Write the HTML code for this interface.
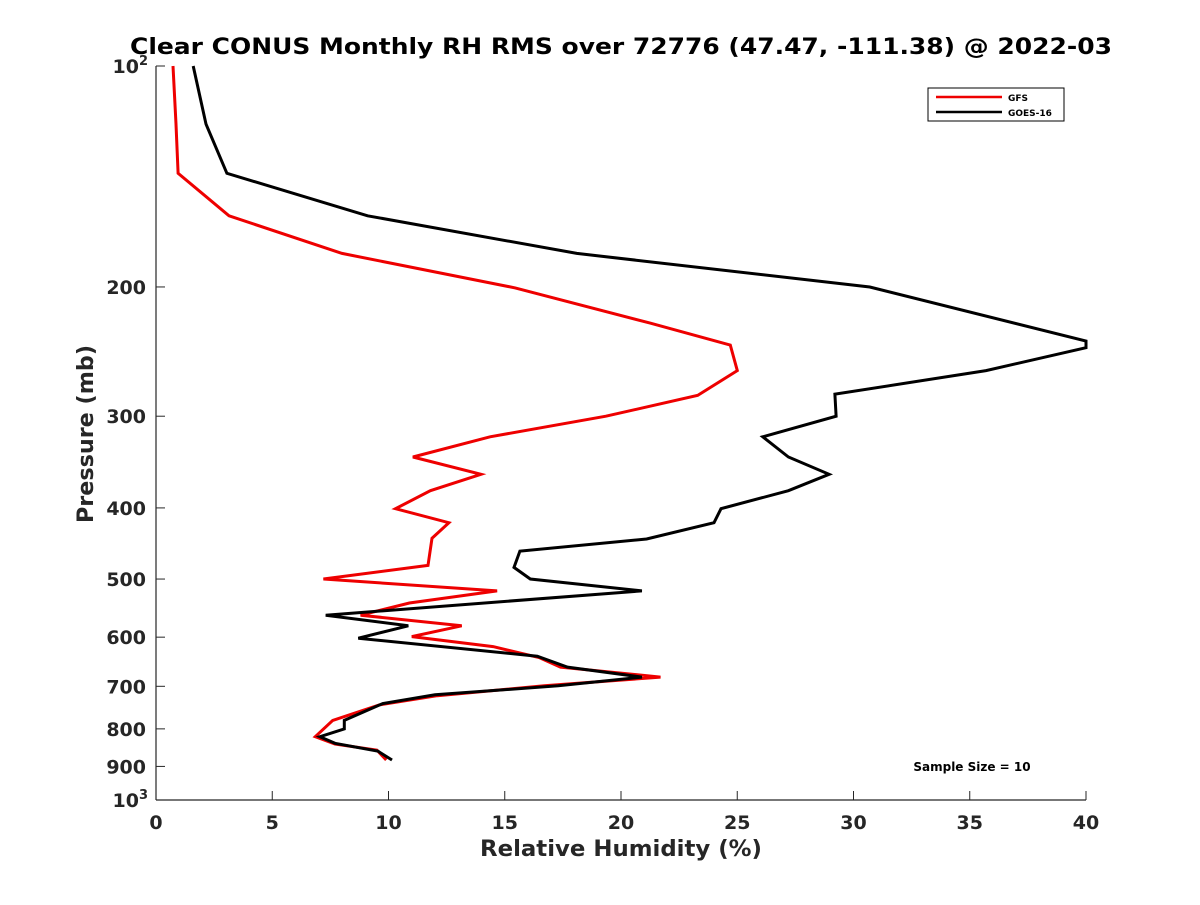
<!DOCTYPE html>
<html><head><meta charset="utf-8"><style>
body{margin:0;background:#fff;}
svg text{font-family:"DejaVu Sans","Liberation Sans",sans-serif;font-weight:bold;fill:#262626;}
svg text.blk{fill:#000;}
</style></head><body>
<svg id="chart" width="1200" height="900" xmlns="http://www.w3.org/2000/svg">
<rect width="1200" height="900" fill="#fff"/>
<text class="blk" x="621" y="54" font-size="22" text-anchor="middle" textLength="982" lengthAdjust="spacingAndGlyphs">Clear CONUS Monthly RH RMS over 72776 (47.47, -111.38) @ 2022-03</text>
<g id="axes"></g>
<g id="series"></g>
<g>
<rect x="928" y="88" width="136" height="33" fill="#fff" stroke="#000" stroke-width="1"/>
<line x1="936" y1="97" x2="1002" y2="97" stroke="#e00" stroke-width="2.5"/>
<text class="blk" x="1008" y="101" font-size="9">GFS</text>
<line x1="936" y1="112" x2="1002" y2="112" stroke="#000" stroke-width="2.5"/>
<text class="blk" x="1008" y="116" font-size="9">GOES-16</text>
</g>
<text class="blk" x="972" y="771" font-size="12" text-anchor="middle">Sample Size = 10</text>
<text x="621" y="856" font-size="22.5" text-anchor="middle" textLength="282" lengthAdjust="spacingAndGlyphs">Relative Humidity (%)</text>
<text transform="translate(93,434) rotate(-90)" font-size="22.5" text-anchor="middle" textLength="178" lengthAdjust="spacingAndGlyphs">Pressure (mb)</text>
</svg>
<script>
const xTicks=[0,5,10,15,20,25,30,35,40];
const yTicks=[100,200,300,400,500,600,700,800,900,1000];
const goesP=[100,120,140,160,180,200,237,242,260,280,300,320,341,360,379,401,419,441,458,482,500,519,560,579,602,637,659,680,699,719,739,779,800,820,837,858,882];
const goesV=[1.6,2.15,3.05,9.1,18.1,30.7,40,40,35.7,29.2,29.25,26.1,27.2,28.95,27.2,24.3,24.0,21.1,15.65,15.4,16.1,20.9,7.3,10.85,8.7,16.4,17.7,20.9,17.3,12.0,9.75,8.1,8.1,7.05,7.7,9.55,10.15];
const gfsP=[100,120,140,160,180,200.6,224,240,260,281,300,320,341,360,379,401,419,440,479,500,519,539,560,579,599,618,640,659,680,699,721,742,779,820,839,855,882];
const gfsV=[0.73,0.86,0.95,3.14,8.0,15.45,21.25,24.7,25.0,23.3,19.35,14.37,11.05,13.98,11.8,10.3,12.6,11.87,11.7,7.2,14.67,10.9,8.8,13.15,11.0,14.5,16.5,17.4,21.7,16.7,12.1,9.6,7.6,6.85,7.7,9.5,9.9];
const X0=156,X1=1086,Y0=66,Y1=800;
const xs=v=>X0+(v-0)/40*(X1-X0);
const ys=p=>Y0+(Math.log10(p)-2)*(Y1-Y0);
const NS="http://www.w3.org/2000/svg";
function mk(t,a,parent){const e=document.createElementNS(NS,t);for(const k in a)e.setAttribute(k,a[k]);parent.appendChild(e);return e;}
const ax=document.getElementById('axes');
let l=mk('line',{x1:X0,y1:Y0,x2:X0,y2:Y1,stroke:'#262626','stroke-width':1.2},ax);


l=mk('line',{x1:X0,y1:Y1,x2:X1,y2:Y1,stroke:'#262626','stroke-width':1.2},ax);


xTicks.forEach(v=>{
 const t=mk('line',{x1:xs(v),y1:Y1,x2:xs(v),y2:Y1-9,stroke:'#262626','stroke-width':1},ax);
 
 
 const tx=mk('text',{x:xs(v),y:Y1+29,'font-size':19,'text-anchor':'middle'},ax);
 tx.textContent=v;
 
 
});
yTicks.forEach(p=>{
 const t=mk('line',{x1:X0,y1:ys(p),x2:X0+9,y2:ys(p),stroke:'#262626','stroke-width':1},ax);
 
 
 const tx=mk('text',{x:X0-10,y:ys(p)+7,'font-size':19,'text-anchor':'end'},ax);
 if(p===100||p===1000){
  tx.textContent='10';
  const s=mk('tspan',{dy:-8,'font-size':13},tx);s.textContent=p===100?'2':'3';
  tx.setAttribute('x',X0-8);
 } else tx.textContent=p;
 
 
});
const sg=document.getElementById('series');
function line(P,V,col,name){
 const d=P.map((p,i)=>(i?'L':'M')+xs(V[i]).toFixed(1)+','+ys(p).toFixed(1)).join('');
 const e=mk('path',{d:d,fill:'none',stroke:col,'stroke-width':3,'stroke-linejoin':'miter'},sg);
 
 
}
line(gfsP,gfsV,'#e00','gfs-line');
line(goesP,goesV,'#000','goes16-line');
</script>
</body></html>
